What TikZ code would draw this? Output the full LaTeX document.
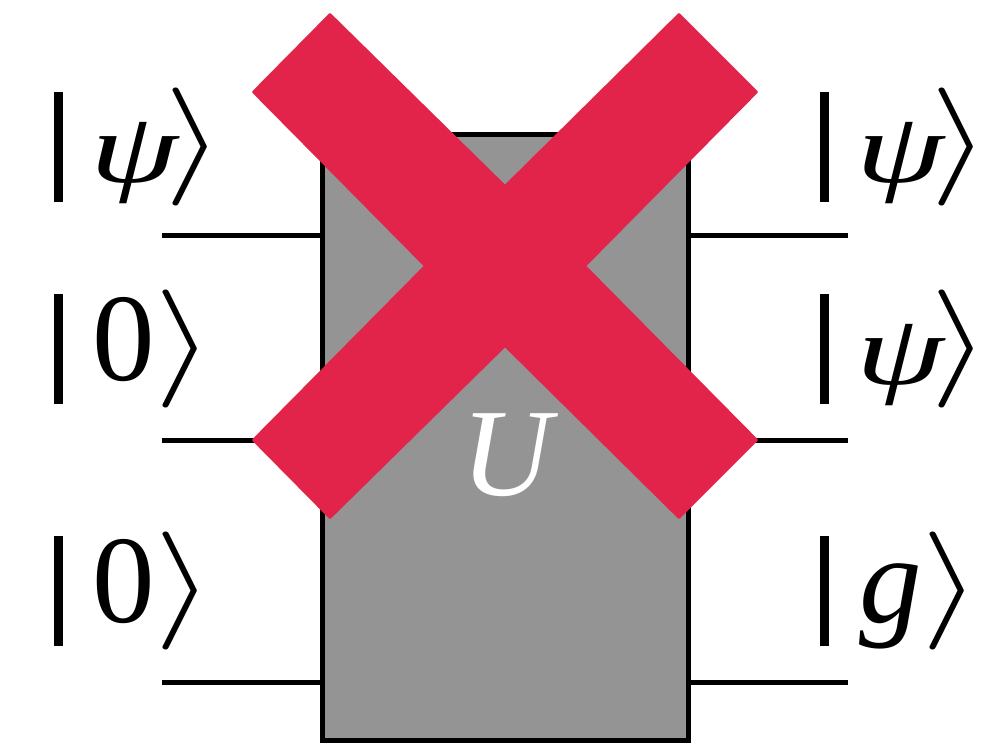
\documentclass[tikz,border=0pt]{standalone}
\usepackage{graphicx}
\usepackage{fontspec}
\setmainfont{Liberation Serif}
\definecolor{crossred}{HTML}{E2244B}
\definecolor{boxgray}{HTML}{949494}
\tikzset{x=1pt,y=-1pt,
  wire/.style={line width=5pt,black},
  gatebox/.style={draw=black,line width=5pt,fill=boxgray},
  crossbar/.style={fill=crossred,draw=crossred,line width=2pt,line join=round},
  ketlabel/.style={anchor=base west,inner sep=0pt,outer sep=0pt,text=black}}
\newcommand{\ketbar}{\rule[-24pt]{9pt}{110pt}}
\newcommand{\ketclose}{\raisebox{1.5pt}{\scalebox{15.4}[11.8]{$\rangle$}}}
% #1 letter, #2 #3: letter offset and distance from the bar's left edge to the closing bracket
\newcommand{\ketbody}[3]{\ketbar\rlap{\hspace{#2}{\fontsize{125}{125}\selectfont #1}}\hspace{#3}\ketclose}
\newcommand{\ketpsi}{\raisebox{-4pt}{\scalebox{1.13}[0.8]{\itshape ψ}}}
\begin{document}
\begin{tikzpicture}
\useasboundingbox (0,0) rectangle (989,744);
\coordinate (in1) at (162,235);
\coordinate (in2) at (162,440);
\coordinate (in3) at (162,682);
\coordinate (out1) at (848,235);
\coordinate (out2) at (848,440);
\coordinate (out3) at (848,682);
\node[gatebox,minimum width=366pt,minimum height=606pt,inner sep=0pt] (box) at (505,437) {};
\draw[wire] (in1) -- (in1 -| box.west);
\draw[wire] (in2) -- (in2 -| box.west);
\draw[wire] (in3) -- (in3 -| box.west);
\draw[wire] (out1) -- (out1 -| box.east);
\draw[wire] (out2) -- (out2 -| box.east);
\draw[wire] (out3) -- (out3 -| box.east);
\node[ketlabel,text=white] (u) at (461,495) {\fontsize{125}{125}\selectfont\itshape U};
\draw[crossbar] (330,14) -- (505,186) -- (679,14) -- (757,92) -- (585,266) -- (757,440) -- (679,518) -- (505,346) -- (330,518) -- (253,440) -- (425,266) -- (253,92) -- cycle;
\node[ketlabel] (k1) at (54,178) {\ketbody{\ketpsi}{27pt}{101.6pt}};
\node[ketlabel] (k2) at (54,380) {\ketbody{0}{30pt}{91.6pt}};
\node[ketlabel] (k3) at (54,622) {\ketbody{0}{30pt}{91.6pt}};
\node[ketlabel] (k4) at (820,178) {\ketbody{\ketpsi}{27pt}{101.6pt}};
\node[ketlabel] (k5) at (820,380) {\ketbody{\ketpsi}{27pt}{101.6pt}};
\node[ketlabel] (k6) at (820,622) {\ketbody{\itshape g}{30pt}{92.6pt}};
\end{tikzpicture}
\end{document}
